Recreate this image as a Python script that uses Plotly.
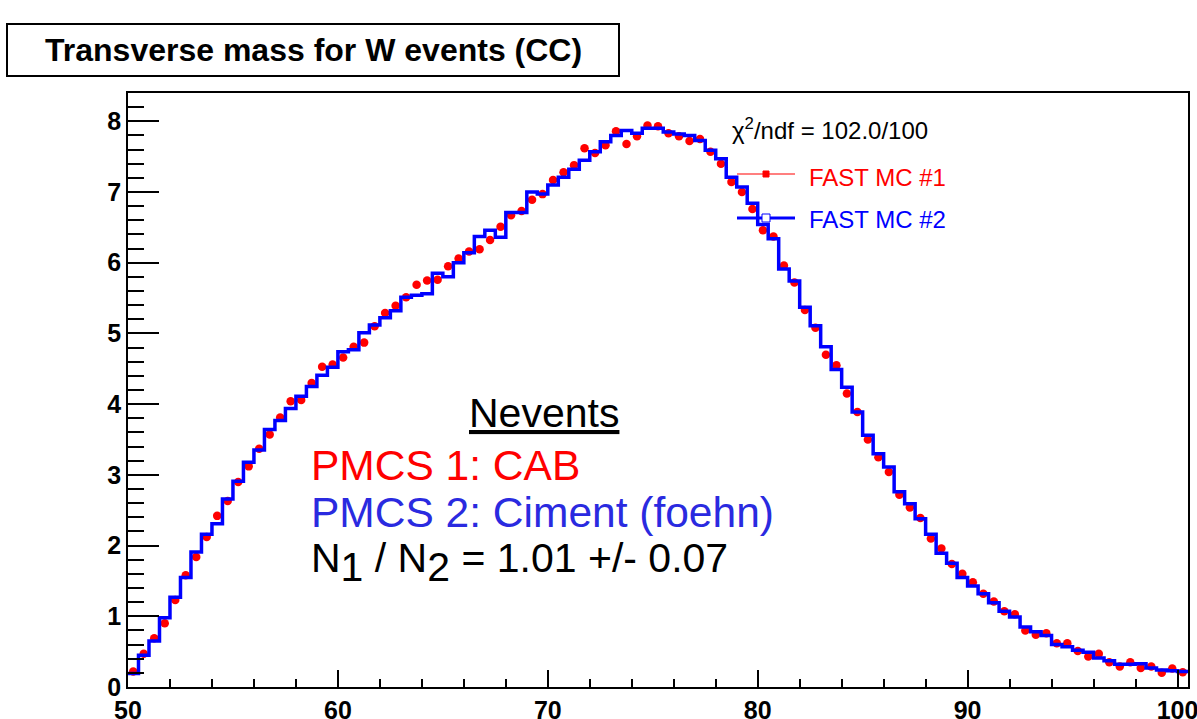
import plotly.graph_objects as go

# ---- data -------------------------------------------------------------
bin_low = 50.0
bin_width = 0.5

fast_mc_2 = [0.19, 0.45, 0.65, 0.98, 1.27, 1.55, 1.91, 2.16, 2.31, 2.66,
             2.91, 3.18, 3.35, 3.64, 3.77, 3.94, 4.11, 4.25, 4.41, 4.52,
             4.74, 4.77, 5.01, 5.12, 5.22, 5.32, 5.51, 5.54, 5.56, 5.85,
             5.80, 6.00, 6.14, 6.37, 6.46, 6.36, 6.71, 6.71, 7.00, 6.97,
             7.10, 7.21, 7.32, 7.45, 7.57, 7.71, 7.80, 7.87, 7.83, 7.90,
             7.90, 7.85, 7.82, 7.80, 7.73, 7.59, 7.47, 7.21, 7.07, 6.84,
             6.54, 6.34, 5.91, 5.74, 5.37, 5.11, 4.81, 4.49, 4.24, 3.89,
             3.56, 3.30, 3.11, 2.76, 2.59, 2.38, 2.16, 1.89, 1.75, 1.55,
             1.43, 1.32, 1.19, 1.07, 0.99, 0.85, 0.78, 0.73, 0.60, 0.57,
             0.52, 0.49, 0.41, 0.37, 0.32, 0.32, 0.33, 0.27, 0.24, 0.23,
             0.22]

fast_mc_1 = [0.22, 0.47, 0.69, 0.90, 1.23, 1.58, 1.84, 2.12, 2.42, 2.63,
             2.90, 3.12, 3.37, 3.57, 3.81, 4.04, 4.06, 4.30, 4.53, 4.56,
             4.66, 4.81, 4.87, 5.10, 5.29, 5.39, 5.51, 5.69, 5.75, 5.76,
             5.95, 6.06, 6.16, 6.19, 6.32, 6.51, 6.67, 6.73, 6.89, 6.97,
             7.17, 7.28, 7.38, 7.62, 7.55, 7.66, 7.86, 7.68, 7.79, 7.94,
             7.93, 7.83, 7.79, 7.72, 7.75, 7.57, 7.40, 7.14, 7.00, 6.76,
             6.46, 6.37, 5.96, 5.72, 5.33, 5.08, 4.70, 4.55, 4.15, 3.89,
             3.50, 3.25, 3.04, 2.72, 2.54, 2.39, 2.10, 1.96, 1.74, 1.60,
             1.48, 1.32, 1.21, 1.07, 1.03, 0.80, 0.74, 0.76, 0.62, 0.62,
             0.51, 0.43, 0.47, 0.35, 0.29, 0.35, 0.27, 0.29, 0.20, 0.26,
             0.21]

x_ticks = [50, 60, 70, 80, 90, 100]
y_ticks = [0, 1, 2, 3, 4, 5, 6, 7, 8]

title_text = "Transverse mass for W events (CC)"
chi2_text = "χ<sup>2</sup>/ndf = 102.0/100"
legend_labels = ["FAST MC #1", "FAST MC #2"]

n_bins = len(fast_mc_2)
edges = [bin_low + bin_width * i for i in range(n_bins + 1)]
centers = [bin_low + bin_width * (i + 0.5) for i in range(n_bins)]

RED = "#ff0000"
BLUE = "#0000ff"
TEXT_BLUE = "#2a2ae0"
FONT = "Liberation Sans, Arial, Helvetica, sans-serif"

fig = go.Figure()

fig.add_trace(go.Scatter(
    x=centers, y=fast_mc_1, mode="markers",
    marker=dict(symbol="circle", size=8.5, color=RED, line=dict(width=0)),
    name=legend_labels[0], showlegend=False,
))

fig.add_trace(go.Scatter(
    x=edges, y=fast_mc_2 + [fast_mc_2[-1]], mode="lines",
    line=dict(color=BLUE, width=3.5, shape="hv"),
    name=legend_labels[1], showlegend=False,
))

L, R, T, B = 128, 9, 93, 32
W, H = 1197, 719
PW, PH = W - L - R, H - T - B


def px(x):
    return (x - L) / PW


def py(y):
    return (H - B - y) / PH


tickfont = dict(family=FONT, size=25, color="black", weight="bold")

fig.update_xaxes(
    range=[edges[0], edges[-1]], tickvals=x_ticks,
    ticks="inside", ticklen=17, tickwidth=1.5, tickcolor="black",
    minor=dict(dtick=2, tick0=50, ticks="inside", ticklen=8,
               tickwidth=1.5, tickcolor="black"),
    showline=True, linecolor="black", linewidth=1.5, mirror=True,
    showgrid=False, zeroline=False, tickfont=tickfont, automargin=False,
    ticklabeloverflow="allow",
)
fig.update_yaxes(
    range=[0, 8.4], tickvals=y_ticks,
    ticks="inside", ticklen=31, tickwidth=1.5, tickcolor="black",
    minor=dict(dtick=0.2, tick0=0, ticks="inside", ticklen=16,
               tickwidth=1.5, tickcolor="black"),
    showline=True, linecolor="black", linewidth=1.5, mirror=True,
    showgrid=False, zeroline=False, tickfont=tickfont, automargin=False,
    ticklabeloverflow="allow",
)

shapes = [
    # title box
    dict(type="rect", xref="paper", yref="paper",
         x0=px(7), x1=px(619), y0=py(76), y1=py(24),
         line=dict(color="black", width=2), fillcolor="white"),
    # legend entries
    dict(type="line", xref="paper", yref="paper",
         x0=px(737), x1=px(795), y0=py(174), y1=py(174),
         line=dict(color=RED, width=1.2)),
    dict(type="rect", xref="paper", yref="paper",
         xsizemode="pixel", ysizemode="pixel",
         xanchor=px(766), yanchor=py(174), x0=-3, x1=3, y0=-3, y1=3,
         line=dict(color=RED, width=1), fillcolor=RED),
    dict(type="line", xref="paper", yref="paper",
         x0=px(737), x1=px(795), y0=py(218), y1=py(218),
         line=dict(color=BLUE, width=3)),
    dict(type="rect", xref="paper", yref="paper",
         xsizemode="pixel", ysizemode="pixel",
         xanchor=px(766), yanchor=py(218), x0=-4, x1=4, y0=-4, y1=4,
         line=dict(color=BLUE, width=1), fillcolor="white"),
]

SUBF = "<span style='font-size:41px'>%s</span>"
ratio_text = ("N<sub>" + SUBF % "1" + "</sub> / N<sub>" + SUBF % "2"
              + "</sub> = 1.01 +/- 0.07")

annotations = [
    dict(text="<b>" + title_text + "</b>", x=px(313), y=py(50),
         font=dict(family=FONT, size=32, color="black")),
    dict(text=chi2_text, x=px(730), y=py(129), xanchor="left",
         font=dict(family=FONT, size=24, color="black")),
    dict(text=legend_labels[0], x=px(807), y=py(177), xanchor="left",
         font=dict(family=FONT, size=24, color=RED)),
    dict(text=legend_labels[1], x=px(807), y=py(219), xanchor="left",
         font=dict(family=FONT, size=24, color=BLUE)),
    dict(text="<u>Nevents</u>", x=px(544), y=py(413),
         font=dict(family=FONT, size=41, color="black")),
    dict(text="PMCS 1: CAB", x=px(309), y=py(465), xanchor="left",
         font=dict(family=FONT, size=42.5, color=RED)),
    dict(text="PMCS 2: Ciment (foehn)", x=px(309), y=py(512), xanchor="left",
         font=dict(family=FONT, size=42.5, color=TEXT_BLUE)),
    dict(text=ratio_text, x=px(309), y=py(562), xanchor="left",
         font=dict(family=FONT, size=41, color="black")),
]
for a in annotations:
    a.update(xref="paper", yref="paper", showarrow=False,
             xanchor=a.get("xanchor", "center"), yanchor="middle")

fig.update_layout(
    width=W, height=H,
    margin=dict(l=L, r=R, t=T, b=B, pad=0),
    paper_bgcolor="white", plot_bgcolor="white",
    shapes=shapes, annotations=annotations, showlegend=False,
)

fig.write_html("out.html", config={"displayModeBar": False},
               post_script="document.body.style.margin='0';")
